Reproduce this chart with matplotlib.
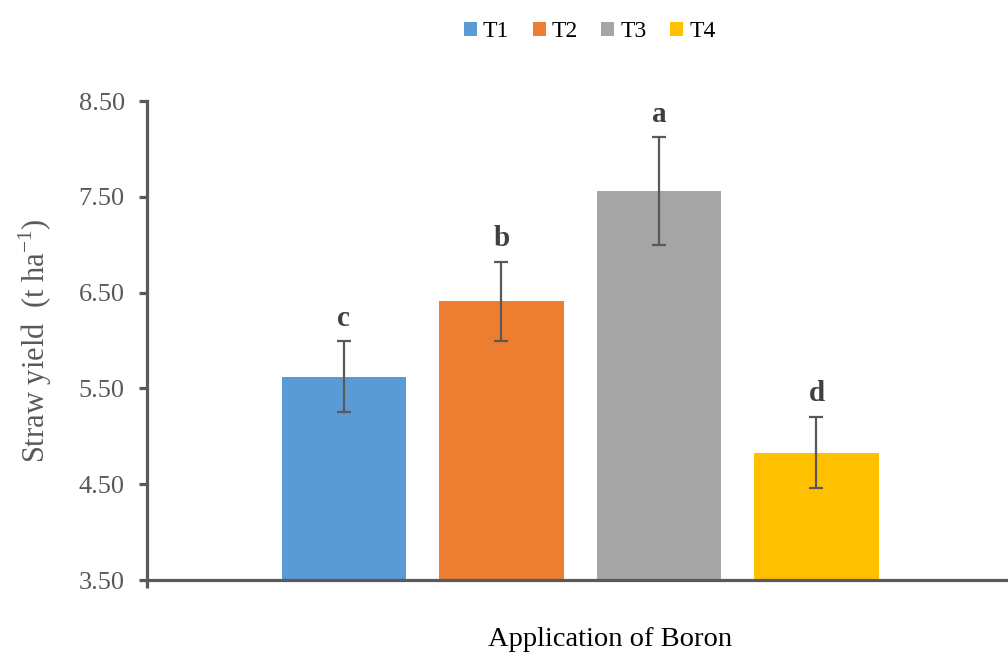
import matplotlib.pyplot as plt
from matplotlib.patches import Patch

# straw yield per boron treatment
treatments = ["T1", "T2", "T3", "T4"]
yield_t_ha = [5.62, 6.41, 7.56, 4.83]
std_err = [0.37, 0.41, 0.56, 0.37]
letters = ["c", "b", "a", "d"]
colors = ["#5B9BD5", "#ED7D31", "#A5A5A5", "#FFC000"]

yticks = [3.50, 4.50, 5.50, 6.50, 7.50, 8.50]

plt.rcParams["font.family"] = ["Liberation Serif", "DejaVu Serif"]

fig = plt.figure(figsize=(10.08, 6.55), dpi=100)
ax = fig.add_axes([0.1458, 0.1145, 0.8542, 0.7313])

axis_col = "#595959"
x = range(len(treatments))

ax.bar(x, yield_t_ha, width=0.79, color=colors, zorder=2)
ax.errorbar(x, yield_t_ha, yerr=std_err, fmt="none", ecolor=axis_col,
            elinewidth=1.6, capsize=5, capthick=1.6, zorder=3)

for i, (v, e, lab) in enumerate(zip(yield_t_ha, std_err, letters)):
    ax.annotate(lab, (i, v + e), xytext=(0, 7), textcoords="offset points",
                ha="center", va="bottom", fontsize=21, fontweight="bold",
                color="#404040")

ax.set_ylim(3.5, 8.5)
ax.set_xlim(-1.25, 4.216)
ax.set_yticks(yticks)
ax.set_yticklabels([f"{t:.2f}" for t in yticks])
ax.set_xticks([-1.25])
ax.set_xticklabels([""])

for side in ["top", "right"]:
    ax.spines[side].set_visible(False)
for side in ["left", "bottom"]:
    ax.spines[side].set_color(axis_col)
    ax.spines[side].set_linewidth(2.3)
    ax.spines[side].set_zorder(4)

ax.tick_params(axis="y", direction="out", length=6, width=2.3, color=axis_col,
               labelcolor=axis_col, labelsize=19, pad=10)
ax.tick_params(axis="x", direction="out", length=6, width=2.3, color=axis_col)

ax.set_ylabel("Straw yield  (t ha$^{\\mathregular{-1}}$)", fontsize=22,
              color=axis_col, labelpad=18)
ax.text(0.538, -0.125, "Application of Boron", transform=ax.transAxes,
        ha="center", va="center", fontsize=20.5, color="black")

handles = [Patch(facecolor=c, label=t) for c, t in zip(colors, treatments)]
fig.legend(handles=handles, loc="upper center", bbox_to_anchor=(0.585, 1.0),
           ncol=4, frameon=False, fontsize=17, handlelength=0.55,
           handleheight=0.55, handletextpad=0.25, columnspacing=1.0)

fig.savefig("out.png", dpi=100)
